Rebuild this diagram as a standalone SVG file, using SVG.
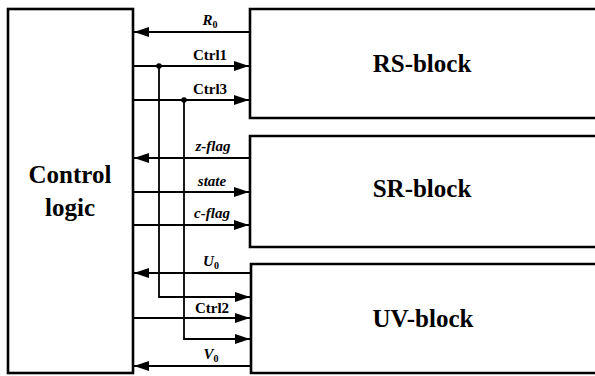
<svg xmlns="http://www.w3.org/2000/svg" width="595" height="376" viewBox="0 0 595 376">
<defs>
<marker id="ah" markerUnits="userSpaceOnUse" markerWidth="16" markerHeight="11" refX="15" refY="5" orient="auto">
<path d="M0,0 L15,5 L0,10 z" fill="#000"/>
</marker>
</defs>
<rect width="595" height="376" fill="#fff"/>
<g id="control-logic">
<rect x="8" y="9" width="125" height="364" fill="none" stroke="#000" stroke-width="2.6"/>
<text x="70" y="183" font-family="Liberation Serif" font-weight="bold" font-size="25" text-anchor="middle">Control</text>
<text x="70" y="216" font-family="Liberation Serif" font-weight="bold" font-size="25" text-anchor="middle">logic</text>
</g>
<g id="rs-block">
<path d="M600,9 H250 V118 H600" fill="none" stroke="#000" stroke-width="2.6"/>
<text x="422" y="72" font-family="Liberation Serif" font-weight="bold" font-size="25" text-anchor="middle">RS-block</text>
</g>
<g id="sr-block">
<path d="M600,136 H250 V247 H600" fill="none" stroke="#000" stroke-width="2.6"/>
<text x="422" y="197" font-family="Liberation Serif" font-weight="bold" font-size="25" text-anchor="middle">SR-block</text>
</g>
<g id="uv-block">
<path d="M600,264 H251 V373 H600" fill="none" stroke="#000" stroke-width="2.6"/>
<text x="423" y="327" font-family="Liberation Serif" font-weight="bold" font-size="25" text-anchor="middle">UV-block</text>
</g>
<g id="connectors" fill="none" stroke="#000" stroke-width="1.8" marker-end="url(#ah)">
<line x1="250" y1="32" x2="134" y2="32"/>
<line x1="133" y1="66" x2="249" y2="66"/>
<line x1="133" y1="100" x2="249" y2="100"/>
<line x1="250" y1="158" x2="134" y2="158"/>
<line x1="133" y1="192" x2="249" y2="192"/>
<line x1="133" y1="225" x2="249" y2="225"/>
<line x1="251" y1="273" x2="134" y2="273"/>
<path d="M159,66 V297 H250"/>
<line x1="133" y1="318" x2="250" y2="318"/>
<path d="M184,100 V339 H250"/>
<line x1="251" y1="366" x2="134" y2="366"/>
</g>
<g id="junctions" fill="#000">
<circle cx="159" cy="66" r="2.8"/>
<circle cx="184" cy="100" r="2.8"/>
</g>
<g id="labels" fill="#000">
<text x="210" y="25" font-family="Liberation Serif" font-weight="bold" font-size="15" text-anchor="middle"><tspan font-style="italic">R</tspan><tspan font-size="10" dy="3">0</tspan></text>
<text x="210" y="60" font-family="Liberation Serif" font-weight="bold" font-size="15" text-anchor="middle">Ctrl1</text>
<text x="210" y="94" font-family="Liberation Serif" font-weight="bold" font-size="15" text-anchor="middle">Ctrl3</text>
<text x="213" y="151" font-family="Liberation Serif" font-weight="bold" font-size="15" text-anchor="middle" font-style="italic">z-flag</text>
<text x="212" y="186" font-family="Liberation Serif" font-weight="bold" font-size="15" text-anchor="middle" font-style="italic">state</text>
<text x="212" y="218" font-family="Liberation Serif" font-weight="bold" font-size="15" text-anchor="middle" font-style="italic">c-flag</text>
<text x="211" y="266" font-family="Liberation Serif" font-weight="bold" font-size="15" text-anchor="middle"><tspan font-style="italic">U</tspan><tspan font-size="10" dy="3">0</tspan></text>
<text x="212" y="313" font-family="Liberation Serif" font-weight="bold" font-size="15" text-anchor="middle">Ctrl2</text>
<text x="211" y="359" font-family="Liberation Serif" font-weight="bold" font-size="15" text-anchor="middle"><tspan font-style="italic">V</tspan><tspan font-size="10" dy="3">0</tspan></text>
</g>
</svg>
